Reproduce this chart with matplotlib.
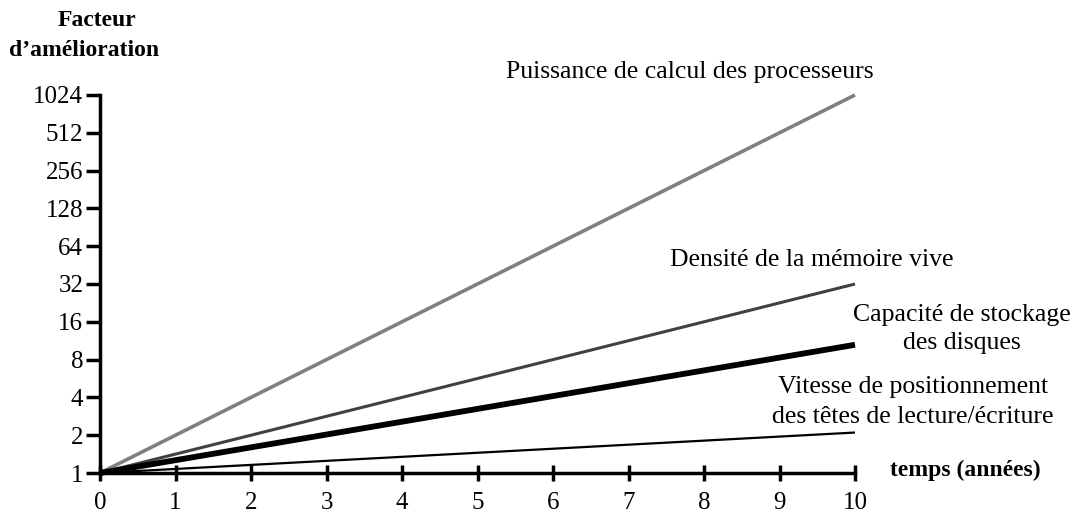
import matplotlib
matplotlib.use("Agg")
import matplotlib.pyplot as plt
import numpy as np

plt.rcParams['font.family'] = ['Liberation Serif', 'DejaVu Serif']

# data: improvement factor after 10 years, starting from 1
years = [0, 10]
processeurs = [1, 1024]
memoire = [1, 32]
disques = [1, 10.5]
tetes = [1, 2.1]

y_ticks = [1, 2, 4, 8, 16, 32, 64, 128, 256, 512, 1024]
x_ticks = list(range(0, 11))

fig = plt.figure(figsize=(10.83, 5.15), dpi=100)
ax = fig.add_axes([100 / 1083, 1 - 473 / 515, 755 / 1083, 378 / 515])

ax.plot(years, processeurs, color="#808080", lw=2.6, clip_on=False, solid_capstyle="butt")
ax.plot(years, memoire, color="#404040", lw=2.2, clip_on=False, solid_capstyle="butt")
ax.plot(years, disques, color="black", lw=4.2, clip_on=False, solid_capstyle="butt")
ax.plot(years, tetes, color="black", lw=1.6, clip_on=False, solid_capstyle="butt")

ax.set_yscale("log", base=2)
ax.set_xlim(0, 10)
ax.set_ylim(1, 1024)
ax.set_yticks(y_ticks)
ax.set_yticklabels([str(v) for v in y_ticks])
ax.minorticks_off()
ax.set_xticks(x_ticks)
ax.set_xticklabels([str(v) for v in x_ticks])

for s in ["top", "right"]:
    ax.spines[s].set_visible(False)
for s in ["left", "bottom"]:
    ax.spines[s].set_linewidth(2.5)

ax.tick_params(axis="y", direction="out", length=10, width=2.5, labelsize=18, pad=2)
ax.tick_params(axis="x", direction="inout", length=12, width=2.5, labelsize=18, pad=8)

fs = 18.5
fig.text(690 / 1083, 1 - 72 / 515, "Puissance de calcul des processeurs",
         ha="center", va="center", fontsize=fs)
fig.text(812 / 1083, 1 - 260 / 515, "Densité de la mémoire vive",
         ha="center", va="center", fontsize=fs)
fig.text(962 / 1083, 1 - 329 / 515, "Capacité de stockage\ndes disques",
         ha="center", va="center", fontsize=fs, linespacing=1.38)
fig.text(913 / 1083, 1 - 402 / 515, "Vitesse de positionnement\ndes têtes de lecture/écriture",
         ha="center", va="center", fontsize=fs, linespacing=1.42)
fig.text(890 / 1083, 1 - 470 / 515, "temps (années)",
         ha="left", va="center", fontsize=17, fontweight="bold")
fig.text(97 / 1083, 1 - 21 / 515, "Facteur",
         ha="center", va="center", fontsize=17, fontweight="bold")
fig.text(84 / 1083, 1 - 50 / 515, "d\u2019amélioration",
         ha="center", va="center", fontsize=17, fontweight="bold")

fig.savefig("out.png", dpi=100)
